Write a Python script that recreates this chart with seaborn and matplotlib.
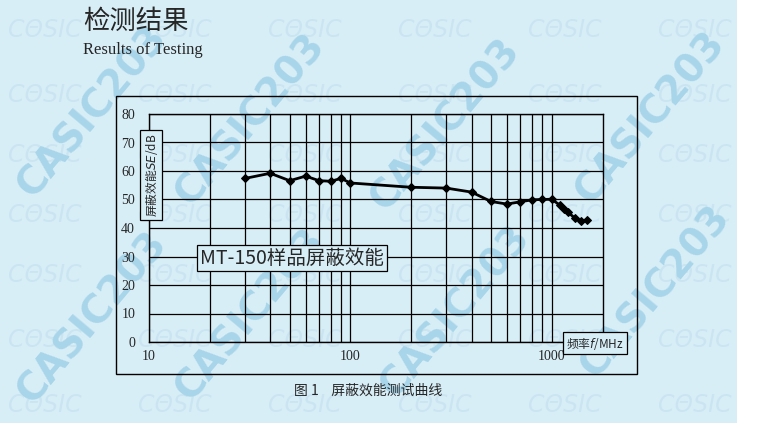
import matplotlib
matplotlib.use("Agg")
import matplotlib.pyplot as plt
from matplotlib.patches import Rectangle
from matplotlib.ticker import FixedLocator, NullFormatter
import seaborn as sns
import pandas as pd

# measured shielding effectiveness of sample MT-150
freq_mhz = [30, 40, 50, 60, 70, 80, 90, 100, 200, 300, 400, 500, 600, 700,
            800, 900, 1000, 1100, 1150, 1200, 1300, 1400, 1500]
se_db = [57.4, 59.2, 56.6, 58.2, 56.6, 56.4, 57.4, 55.8, 54.3, 54.0, 52.6,
         49.3, 48.4, 49.2, 49.9, 50.0, 50.1, 48.0, 46.8, 45.6, 43.6, 42.4, 42.9]

major_x = [10, 100, 1000]
minor_x = [20, 30, 40, 50, 60, 70, 80, 90, 200, 300, 400, 500, 600, 700, 800, 900]
y_ticks = [0, 10, 20, 30, 40, 50, 60, 70, 80]

df = pd.DataFrame({"freq": freq_mhz, "se": se_db})

sns.set_style("white")
plt.rcParams["font.family"] = ["Noto Sans CJK SC", "DejaVu Sans"]

bg = "#d8eef7"
fig = plt.figure(figsize=(7.58, 4.23), dpi=100)
fig.patch.set_facecolor("white")
W, H = 758, 423


def fx(px):
    return px / W


def fy(py):
    return 1 - py / H


# paper background (scanned page is light blue, white strip at right)
fig.patches.append(Rectangle((0, 0), fx(737), 1, transform=fig.transFigure,
                             facecolor=bg, edgecolor="none", zorder=-10))

# watermarks, kept behind the chart
wm_color = "#a8d5e9"
big_marks = [(92, 112), (250, 120), (445, 125), (650, 118),
             (92, 318), (250, 315), (455, 312), (655, 292)]
for x, y in big_marks:
    fig.text(fx(x), fy(y), "CASIC203", fontsize=28, fontweight="bold",
             color=wm_color, rotation=50, ha="center", va="center",
             family="DejaVu Sans", zorder=-5)
for row_y in [30, 95, 155, 215, 275, 340, 405]:
    for col_x in range(45, 720, 130):
        fig.text(fx(col_x), fy(row_y), "CΘSIC", fontsize=17, color="#cae5f1",
                 ha="center", va="center", family="DejaVu Sans", style="italic",
                 zorder=-6)

# outer chart frame
fig.patches.append(Rectangle((fx(116), fy(374)), fx(637) - fx(116), fy(96) - fy(374),
                             transform=fig.transFigure, facecolor="none",
                             edgecolor="black", lw=1.0, zorder=1))

ax = fig.add_axes([fx(149), fy(342), fx(603) - fx(149), fy(114) - fy(342)])
ax.set_facecolor("none")

sns.lineplot(data=df, x="freq", y="se", ax=ax, color="black", linewidth=2,
             marker="D", markersize=4.5, markeredgecolor="black", zorder=5)

ax.set_xscale("log")
ax.set_xlim(10, 1800)
ax.set_ylim(0, 80)
ax.xaxis.set_major_locator(FixedLocator(major_x))
ax.xaxis.set_minor_locator(FixedLocator(minor_x))
ax.xaxis.set_minor_formatter(NullFormatter())
ax.set_xticklabels([str(v) for v in major_x])
ax.set_yticks(y_ticks)
ax.grid(which="both", color="black", linewidth=0.9)
ax.tick_params(which="both", length=0)
ax.tick_params(axis="y", pad=10)
ax.tick_params(axis="x", pad=6)
for lab in ax.get_xticklabels() + ax.get_yticklabels():
    lab.set_family("Liberation Serif")
    lab.set_fontsize(10)
for s in ax.spines.values():
    s.set_color("black")
    s.set_linewidth(1.0)
ax.set_xlabel("")
ax.set_ylabel("")

box = dict(boxstyle="square,pad=0.25", facecolor=bg, edgecolor="black", lw=0.9)
fig.text(fx(151), fy(175), "屏蔽效能$SE$/dB", rotation=90, fontsize=8.5,
         ha="center", va="center", bbox=box, zorder=6)
fig.text(fx(595), fy(343), "频率$f$/MHz", fontsize=8.5, ha="center", va="center",
         bbox=box, zorder=6)
fig.text(fx(292), fy(258), "MT-150样品屏蔽效能", fontsize=14, ha="center",
         va="center", bbox=dict(boxstyle="square,pad=0.15", facecolor=bg,
                                 edgecolor="black", lw=0.9), zorder=6)

# page headings
fig.text(fx(83), fy(21), "检测结果", fontsize=19, ha="left", va="center")
fig.text(fx(83), fy(50), "Results of Testing", fontsize=12, ha="left",
         va="center", family="Liberation Serif")
fig.text(fx(368), fy(391), "图 1    屏蔽效能测试曲线", fontsize=10,
         ha="center", va="center")

fig.savefig("out.png", dpi=100)
